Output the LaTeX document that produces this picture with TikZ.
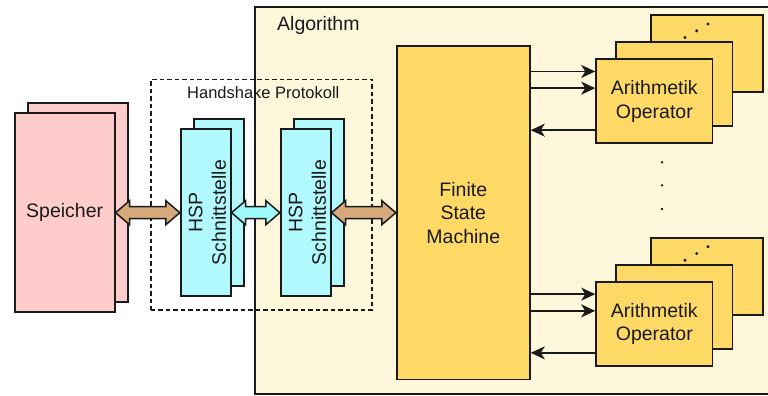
\documentclass[tikz,border=0pt]{standalone}
\usepackage{fontspec}
\setmainfont{Liberation Sans}
\usetikzlibrary{arrows.meta,calc}
\definecolor{ink}{RGB}{26,26,26}
\definecolor{memPink}{RGB}{255,204,204}
\definecolor{hspCyan}{RGB}{178,249,255}
\definecolor{linkCyan}{RGB}{158,252,255}
\definecolor{linkTan}{RGB}{214,168,122}
\definecolor{algBg}{RGB}{255,247,220}
\definecolor{opGold}{RGB}{255,217,102}

% wide two-headed arrow between the east side of #1 and the west side of #2
\newcommand{\flexarrow}[3]{%
  \draw[ink, line width=1.5pt, line join=miter, fill=#3]
    (#1.east) -- ++(14,-12) -- ++(0,6) -- ($(#2.west)+(-14,-6)$) -- ++(0,-6)
    -- (#2.west) -- ++(-14,12) -- ++(0,-6) -- ($(#1.east)+(14,6)$) -- ++(0,6) -- cycle;}

\begin{document}
\begin{tikzpicture}[x=1pt, y=-1pt, font=\fontsize{19.5}{23.5}\selectfont, text=ink,
  box/.style={draw=ink, line width=1.7pt, inner sep=0pt, align=center},
  mem/.style={box, fill=memPink, minimum width=100, minimum height=199},
  hsp/.style={box, fill=hspCyan, minimum width=50, minimum height=167},
  op/.style={box, fill=opGold, minimum width=116.5, minimum height=84},
  sig/.style={ink, line width=1.6pt, -{Stealth[length=14pt, width=13pt, inset=4pt]}},
  dot/.style={circle, fill=ink, inner sep=0pt, minimum size=3.4pt}]
  \useasboundingbox (0,0) rectangle (768,396);

  % algorithm area, open to the right
  \node[fill=algBg, inner sep=0pt, minimum width=513, minimum height=386.7] (alg) at (512,200.6) {};
  \node[inner sep=0pt, font=\fontsize{16.5}{20}\selectfont] (hsktitle) at (263.3,93) {Handshake Protokoll};
  \draw[ink, line width=1.7pt] (alg.north east) -- (alg.north west) -- (alg.south west) -- (alg.south east);
  \node[anchor=west, inner sep=0pt] (algtitle) at (277,25) {Algorithm};
  \node[draw=ink, line width=1.6pt, dash pattern=on 4.5pt off 3pt, inner sep=0pt,
        minimum width=221.3, minimum height=230.7] (hsk) at (261.35,194.65) {};

  \node[mem] (memB) at (78,202.7) {};
  \node[mem] (mem) at (64.7,212.7) {Speicher};

  \node[hsp] (hsp1B) at (219.3,202.7) {};
  \node[hsp] (hsp1) at (205.7,212.7) {};
  \node[rotate=90, align=center, inner sep=0pt] (hsp1txt) at (207.3,212.7) {HSP\\Schnittstelle};
  \node[hsp] (hsp2B) at (319.3,202.7) {};
  \node[hsp] (hsp2) at (305.7,212.7) {};
  \node[rotate=90, align=center, inner sep=0pt] (hsp2txt) at (307.3,212.7) {HSP\\Schnittstelle};

  \node[box, fill=opGold, minimum width=133.3, minimum height=333.3] (fsm) at (463.3,212.7) {Finite\\State\\Machine};

  \foreach \i/\y in {1/101.3, 2/324} {
    \node[op, minimum width=111.7, minimum height=77] (op\i C) at (706.8,\y-47.5) {};
    \node[dot] (op\i-d1) at ($(op\i C)+(-21.8,-16.3)$) {};
    \node[dot] (op\i-d2) at ($(op\i C)+(-10.1,-23)$) {};
    \node[dot] (op\i-d3) at ($(op\i C)+(1.2,-29.8)$) {};
    \node[op] (op\i B) at (674.2,\y-17) {};
    \node[op] (op\i) at (654.3,\y) {Arithmetik\\Operator};
    \coordinate (op\i-in1) at ($(op\i.north west)+(0,13)$);
    \coordinate (op\i-in2) at ($(op\i.north west)+(0,29.7)$);
    \coordinate (op\i-out) at ($(op\i.north west)+(0,71.7)$);
    \draw[sig] (fsm.east |- op\i-in1) -- (op\i-in1);
    \draw[sig] (fsm.east |- op\i-in2) -- (op\i-in2);
    \draw[sig] (op\i-out) -- (fsm.east |- op\i-out);
  }
  \foreach \k/\y in {1/162.3, 2/185.3, 3/209}
    \node[dot, minimum size=2.6pt] (vd\k) at (662,\y) {};

  \flexarrow{mem}{hsp1}{linkTan}
  \flexarrow{hsp1}{hsp2}{linkCyan}
  \flexarrow{hsp2}{fsm}{linkTan}
\end{tikzpicture}
\end{document}
